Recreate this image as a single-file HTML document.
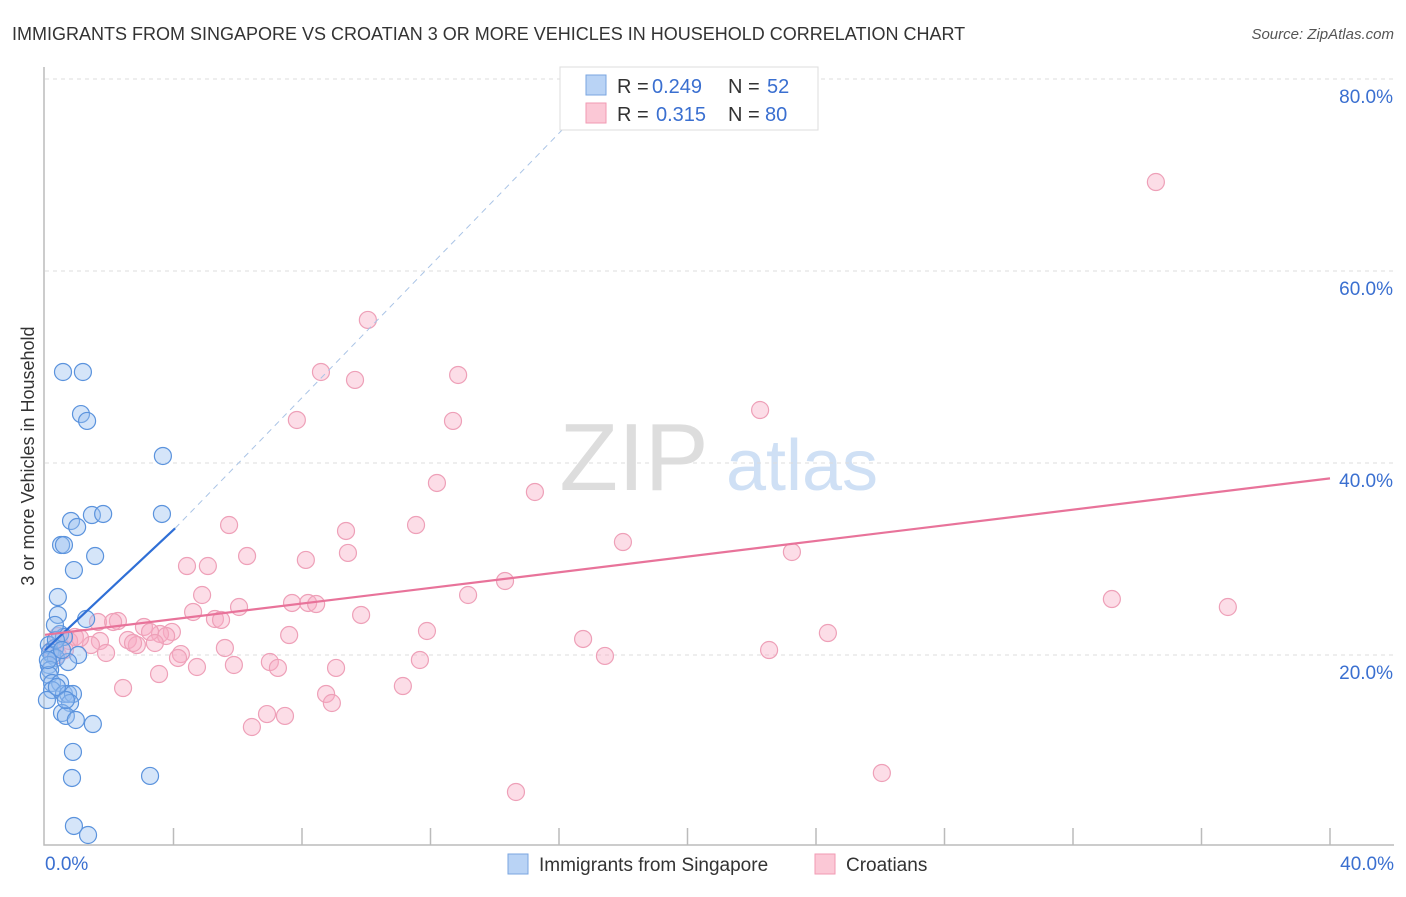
<!DOCTYPE html>
<html><head><meta charset="utf-8"><style>
body{margin:0;background:#fff;font-family:"Liberation Sans",sans-serif}
svg text{font-family:"Liberation Sans",sans-serif}
</style></head><body>
<svg id="c" width="1406" height="892">
<text x="12" y="40" font-size="18" fill="#333">IMMIGRANTS FROM SINGAPORE VS CROATIAN 3 OR MORE VEHICLES IN HOUSEHOLD CORRELATION CHART</text>
<text x="1394" y="39" font-size="15" fill="#555" font-style="italic" text-anchor="end">Source: ZipAtlas.com</text>
<text x="0" y="0" font-size="18" fill="#333" transform="translate(34,456) rotate(-90)" text-anchor="middle">3 or more Vehicles in Household</text>
<g><text x="634" y="490" font-size="96" fill="#ddd" font-family="Liberation Serif" text-anchor="middle">ZIP</text><text x="802" y="490" font-size="72" fill="#cfe0f5" text-anchor="middle">atlas</text></g>
<g id="grid"></g><g id="pts"></g><g id="lines"></g>
<g>
<rect x="560" y="67" width="258" height="63" fill="#fff" stroke="#ddd"/>
<rect x="586" y="75" width="20" height="20" fill="#b9d3f5" stroke="#7aa6e0"/>
<rect x="586" y="103" width="20" height="20" fill="#fbc8d6" stroke="#f29ab3"/>
<text x="617" y="93" font-size="20" fill="#333">R =</text>
<text x="652" y="93" font-size="20" fill="#3a6fd0">0.249</text>
<text x="728" y="93" font-size="20" fill="#333">N =</text>
<text x="767" y="93" font-size="20" fill="#3a6fd0">52</text>
<text x="617" y="121" font-size="20" fill="#333">R =</text>
<text x="656" y="121" font-size="20" fill="#3a6fd0">0.315</text>
<text x="728" y="121" font-size="20" fill="#333">N =</text>
<text x="765" y="121" font-size="20" fill="#3a6fd0">80</text>
</g>
<g>
<rect x="508" y="854" width="20" height="20" fill="#b9d3f5" stroke="#7aa6e0"/>
<text x="539" y="871" font-size="19" fill="#333">Immigrants from Singapore</text>
<rect x="815" y="854" width="20" height="20" fill="#fbc8d6" stroke="#f29ab3"/>
<text x="846" y="871" font-size="19" fill="#333">Croatians</text>
</g>
</svg>
<script>
const yTicks=[20,40,60,80];
const xTickLabels=["0.0%","40.0%"];
const bluePx=[[63,372],[83,372],[81,414],[87,421],[163,456],[162,514],[92,515],[103,514],[71,521],[77,527],[61,545],[64,545],[95,556],[74,570],[58,597],[58,615],[86,619],[60,634],[64,637],[49,645],[55,648],[50,652],[52,655],[56,658],[78,655],[68,662],[49,665],[50,670],[49,675],[52,683],[60,683],[52,690],[64,694],[68,694],[73,694],[70,703],[62,713],[66,716],[76,720],[93,724],[47,700],[73,752],[72,778],[150,776],[74,826],[88,835],[56,640],[62,650],[55,625],[48,660],[57,687],[66,700]];
const pinkPx=[[1156,182],[368,320],[321,372],[355,380],[458,375],[760,410],[297,420],[453,421],[437,483],[535,492],[229,525],[416,525],[346,531],[623,542],[792,552],[247,556],[348,553],[306,560],[187,566],[208,566],[505,581],[202,595],[468,595],[1112,599],[1228,607],[239,607],[292,603],[308,603],[316,604],[193,612],[361,615],[215,619],[221,620],[118,621],[98,622],[113,622],[144,627],[172,632],[160,634],[166,636],[150,632],[289,635],[427,631],[828,633],[583,639],[58,636],[75,637],[69,641],[100,641],[128,640],[137,645],[133,643],[91,645],[155,643],[225,648],[181,654],[106,653],[769,650],[605,656],[178,658],[58,655],[52,650],[270,662],[420,660],[234,665],[197,667],[278,668],[336,668],[159,674],[123,688],[403,686],[326,694],[332,703],[267,714],[285,716],[252,727],[882,773],[516,792],[65,650],[80,638]];
const blueX=bluePx.map(p=>+((p[0]-45)/1285*40).toFixed(2));
const blueY=bluePx.map(p=>+((847-p[1])/9.6).toFixed(2));
const pinkX=pinkPx.map(p=>+((p[0]-45)/1285*40).toFixed(2));
const pinkY=pinkPx.map(p=>+((847-p[1])/9.6).toFixed(2));
const blueLine=[[0,20.5],[4.05,33.2]];
const blueDash=[[4.05,33.2],[17,77.8]];
const pinkLine=[[0,22.1],[40,38.4]];

const X=v=>45+v/40*1285, Y=v=>847-v*9.6;
const NS="http://www.w3.org/2000/svg";
function mk(t,a,p){const e=document.createElementNS(NS,t);for(const k in a)e.setAttribute(k,a[k]);p.appendChild(e);return e;}
const g=document.getElementById('grid');
yTicks.forEach(t=>{
 const l=mk('line',{x1:45,x2:1394,y1:Y(t),y2:Y(t),stroke:'#ddd','stroke-dasharray':'4,4'},g);
 
 
 const tx=mk('text',{x:1393,y:Y(t)+24,'font-size':19,fill:'#3a6fd0','text-anchor':'end'},g);
 tx.textContent=t.toFixed(1)+'%';
 
 
});
const ax=mk('path',{d:'M44,67V845H1394',fill:'none',stroke:'#bbb','stroke-width':1.5},g);


for(let i=1;i<=10;i++){const t=mk('line',{x1:X(i*4),x2:X(i*4),y1:828,y2:845,stroke:'#bbb','stroke-width':1.5},g);
 
 }
[[0,'start',45],[1,'end',1394]].forEach(([i,a,x])=>{const t=mk('text',{x:x,y:870,'font-size':19,fill:'#3a6fd0','text-anchor':a},g);t.textContent=xTickLabels[i];
 
 });
const P=document.getElementById('pts');
pinkX.forEach((x,i)=>{const c=mk('circle',{cx:X(x),cy:Y(pinkY[i]),r:8.5,fill:'rgba(248,170,195,0.4)',stroke:'#eea0b8','stroke-width':1.2},P);
 
 });
blueX.forEach((x,i)=>{const c=mk('circle',{cx:X(x),cy:Y(blueY[i]),r:8.5,fill:'rgba(150,190,240,0.4)',stroke:'#5b93dd','stroke-width':1.2},P);
 
 });
const L=document.getElementById('lines');
const d=mk('line',{x1:X(blueDash[0][0]),y1:Y(blueDash[0][1]),x2:X(blueDash[1][0]),y2:Y(blueDash[1][1]),stroke:'#aac4e6','stroke-width':1,'stroke-dasharray':'6,5'},L);


const b=mk('line',{x1:X(blueLine[0][0]),y1:Y(blueLine[0][1]),x2:X(blueLine[1][0]),y2:Y(blueLine[1][1]),stroke:'#2f6fd6','stroke-width':2.2},L);


const p=mk('line',{x1:X(pinkLine[0][0]),y1:Y(pinkLine[0][1]),x2:X(pinkLine[1][0]),y2:Y(pinkLine[1][1]),stroke:'#e8739a','stroke-width':2.2},L);


</script>
</body></html>
